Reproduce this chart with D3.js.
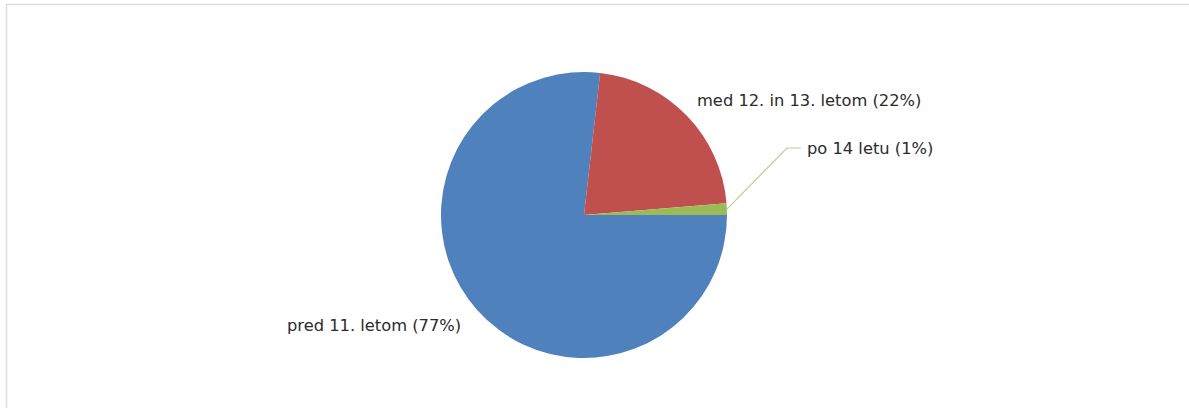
<!DOCTYPE html>
<html>
<head>
<meta charset="utf-8">
<script src="https://cdn.jsdelivr.net/npm/d3@7"></script>
<style>
html,body{margin:0;padding:0;background:#fff;}
svg{display:block;}
</style>
</head>
<body>
<svg id="chart" width="1189" height="408"></svg>
<script>
const categories = ["pred 11. letom", "med 12. in 13. letom", "po 14 letu"];
const values = [76.8, 21.9, 1.3];
const percentLabels = ["77%", "22%", "1%"];
const colors = ["#4F81BD", "#C0504D", "#9BBB59"];

const svg = d3.select("#chart");
svg.append("rect").attr("x", 6.5).attr("y", 4.5).attr("width", 1200).attr("height", 420)
  .attr("fill", "#fff").attr("stroke", "#dcdcdc").attr("stroke-width", 1.5);

const cx = 584, cy = 215, r = 143;
const pie = d3.pie().sort(null).value(d => d).startAngle(Math.PI / 2).endAngle(Math.PI / 2 + 2 * Math.PI);
const arcs = pie(values);
const arc = d3.arc().innerRadius(0).outerRadius(r);

const g = svg.append("g").attr("transform", `translate(${cx},${cy})`);
g.selectAll("path").data(arcs).enter().append("path")
  .attr("d", arc).attr("fill", (d, i) => colors[i]);

const font = "'DejaVu Sans', Verdana, sans-serif";
const labelPos = [
  { x: 287, y: 325, anchor: "start" },
  { x: 697, y: 100, anchor: "start" },
  { x: 807, y: 148, anchor: "start" }
];

// leader line for small slice
const a = (arcs[2].startAngle + arcs[2].endAngle) / 2;
const px = Math.sin(a) * r + cx, py = -Math.cos(a) * r + cy;
svg.append("polyline")
  .attr("points", `${px},${py} ${787},${148} ${801},${148}`)
  .attr("fill", "none").attr("stroke", "#B9CF92").attr("stroke-width", 1.2);

svg.selectAll("text.lbl").data(categories).enter().append("text")
  .attr("class", "lbl")
  .attr("x", (d, i) => labelPos[i].x)
  .attr("y", (d, i) => labelPos[i].y)
  .attr("dy", "0.35em")
  .attr("text-anchor", (d, i) => labelPos[i].anchor)
  .attr("font-family", font).attr("font-size", 16.3).attr("fill", "#2b2b2b")
  .text((d, i) => `${d} (${percentLabels[i]})`);
</script>
</body>
</html>
